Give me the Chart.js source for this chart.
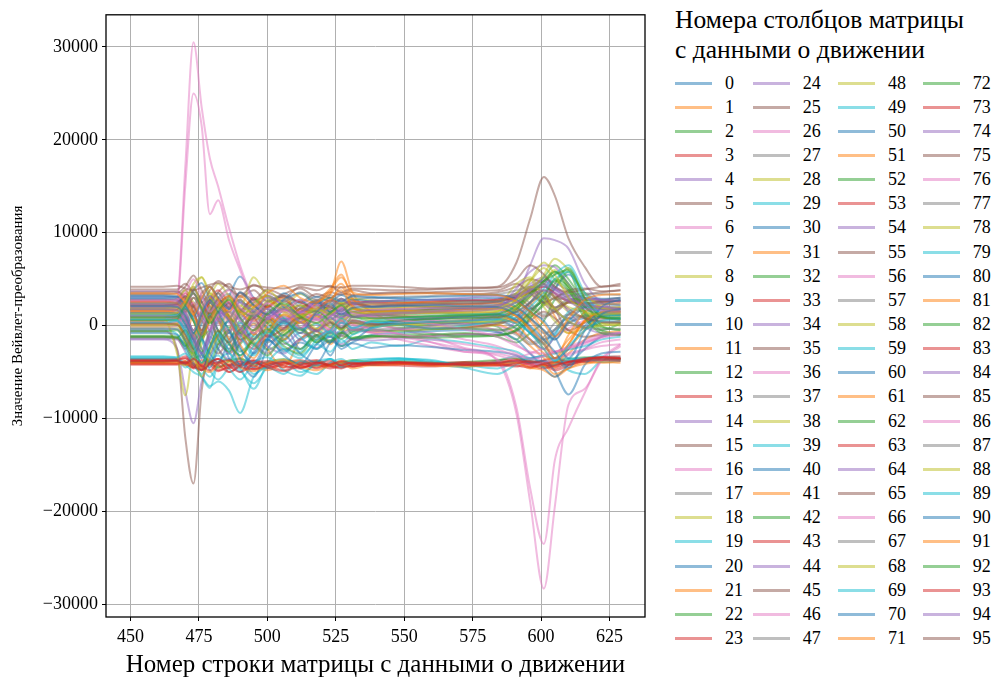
<!DOCTYPE html>
<html lang="ru">
<head>
<meta charset="UTF-8">
<title>Значение Вейвлет-преобразования</title>
<style>
    html, body {
        margin: 0;
        padding: 0;
        background: #fff;
    }

    body {
        width: 996px;
        height: 684px;
        position: relative;
        overflow: hidden;
        font-family: "Liberation Serif", "Times New Roman", serif;
        color: #000;
    }

    #plot {
        position: absolute;
        left: 0;
        top: 0;
    }

    .lg-title {
        position: absolute;
        left: 675px;
        top: 5px;
        font-size: 25.5px;
        line-height: 30px;
        white-space: nowrap;
    }

    .lg-item {
        position: absolute;
        height: 24px;
        font-size: 18px;
        line-height: 24px;
        white-space: nowrap;
    }

    .lg-line {
        position: absolute;
        left: 0;
        top: 11px;
        width: 37px;
        height: 3px;
    }

    .lg-text {
        position: absolute;
        left: 50px;
        top: 0;
    }
</style>
</head>
<body>

<canvas id="plot" width="660" height="684"></canvas>
<div id="legend">
    <div class="lg-title">Номера столбцов матрицы<br>с данными о движении</div>
</div>

<script src="https://cdn.jsdelivr.net/npm/chart.js"></script>
<script>
    const rows = [450, 462, 467, 470, 473, 476, 479, 482, 486, 490, 495, 500, 506, 512, 518, 523, 527, 531, 538, 548, 560, 572, 584, 591, 596, 601, 605, 610, 616, 622, 629];
    const xTicks = [450, 475, 500, 525, 550, 575, 600, 625];
    const yTicks = [-30000, -20000, -10000, 0, 10000, 20000, 30000];

    // wavelet values, one array per matrix column
    const col0 = [600,600,700,-400,-1800,200,1500,-600,-2500,-800,-3000,-1200,400,-1500,-300,900,-200,600,300,500,400,200,300,1200,-500,-1800,-400,800,-200,300,400];
    const col1 = [1200,1200,1300,2200,500,-1500,800,2400,1000,-600,1800,500,2200,800,-400,1200,2000,900,1300,1100,900,1000,1200,600,2200,3500,1000,-800,500,1300,1100];
    const col2 = [300,300,200,1500,-1200,-2800,-600,1200,-1500,500,-2000,-700,1000,-300,-1800,-400,600,-900,200,-200,100,300,-100,-1500,900,2200,4000,5800,1200,-500,200];
    const col3 = [-4000,-4000,-4000,-3800,-4300,-4100,-3600,-4400,-4200,-3900,-4600,-4100,-3800,-4300,-4500,-4000,-4200,-3900,-4100,-4000,-4200,-4100,-4300,-4000,-4400,-4200,-4600,-4100,-3800,-3600,-3700];
    const col4 = [3700,3700,3600,2800,1500,3000,2000,800,2500,1200,2800,1800,600,2200,1500,2600,1800,2400,2000,2300,2500,2600,2800,3500,4500,5200,4000,3000,2400,2700,2900];
    const col5 = [2800,2800,2900,3800,2000,800,2500,3500,1800,2800,1200,2400,3200,1500,2600,2000,2900,2200,2600,2500,2400,2300,2600,3000,3800,2400,1500,2600,3000,2800,3000];
    const col6 = [1900,1900,2000,3000,4200,2500,1000,2800,1500,-500,1200,2200,800,1800,2500,1200,600,1500,1000,800,500,300,0,-800,-1500,-2500,-1200,-300,600,1200,1400];
    const col7 = [900,900,1000,200,-1500,-500,1800,600,-1200,200,1500,-300,-1600,400,1200,-200,700,1500,800,900,1100,1000,800,300,1500,2600,1800,400,-300,600,800];
    const col8 = [1600,1600,1700,2500,3800,5200,3500,1800,2600,1000,2000,2800,1400,2200,1000,1800,2400,1200,1600,1500,1700,1800,1600,2200,3200,4500,3000,1500,1000,1400,1500];
    const col9 = [-3500,-3500,-3600,-4500,-3800,-3000,-4800,-5800,-4500,-3600,-5200,-4300,-3900,-5000,-4200,-3600,-4400,-3800,-3600,-3500,-4000,-4500,-3800,-3300,-3600,-3200,-3800,-4200,-3500,-3300,-3400];
    const col10 = [2400,2400,2300,1200,-500,1500,3200,2000,800,2600,1500,-200,1800,2800,1200,2200,1500,2500,2100,2200,2000,2100,2300,1500,-200,-1500,-800,1200,2000,2300,2200];
    const col11 = [100,100,200,-1000,-2500,-4000,-2200,-500,-3000,-1800,200,-2500,-4500,-1500,-600,-2000,-800,-300,-700,-500,-400,-200,100,-800,-2200,-3500,-4500,-3000,-1500,-800,-600];
    const col12 = [-1300,-1300,-1400,-2000,-3200,-1500,-500,-2500,-3800,-2000,-800,-2600,-1500,-300,-1800,-1000,-2200,-1400,-1100,-1200,-1000,-800,-1200,-1800,-800,500,2800,3500,1200,-500,-900];
    const col13 = [-3800,-3800,-3700,-3500,-4200,-4800,-4000,-3600,-5000,-4400,-3800,-4600,-4000,-3700,-4300,-4100,-3900,-4400,-4000,-3900,-4100,-4000,-3800,-3600,-4000,-4400,-4200,-3900,-3600,-3500,-3600];
    const col14 = [3100,3100,3000,2000,3500,1800,600,2200,3000,1500,2400,3300,2000,1200,2600,1800,2900,2300,2700,2600,2500,2700,2900,3300,4200,5000,4600,3800,3000,2800,2600];
    const col15 = [-1200,-1200,-1300,-2500,-1000,500,-1800,-3000,-1500,-500,-2200,-1000,-2600,-1400,-600,-1800,-1100,-1500,-1300,-1200,-1100,-900,-1000,-600,500,1500,800,-500,-1200,-1000,-900];
    const col16 = [2600,2600,2700,1500,-500,1200,2800,1000,-800,1500,2600,800,-300,1600,2400,1400,900,1700,1300,1000,600,200,-600,-2000,-3000,-3800,-3500,-3200,-2600,-2200,-2000];
    const col17 = [1400,1400,1500,500,2200,3200,1500,200,1800,2800,1000,300,1900,1200,600,1500,2000,1000,1300,1400,1500,1300,1200,600,1800,2500,1500,800,1100,1400,1500];
    const col18 = [200,200,300,-1800,-4200,-2000,500,-1200,800,-1500,-500,1200,-800,400,-1000,300,-400,600,100,200,0,-200,100,1500,3800,2000,500,-800,-300,200,300];
    const col19 = [-3400,-3400,-3500,-4000,-3200,-4500,-5500,-4200,-3600,-4800,-6200,-4500,-3800,-4600,-5200,-4000,-3600,-4200,-3700,-3500,-3800,-4200,-4600,-3900,-3500,-3300,-3600,-4800,-5200,-3800,-3500];
    const col20 = [1000,1000,900,-200,1500,-1200,-3000,-1000,500,-2200,-4500,-1800,200,-2500,-1000,-3200,-800,400,-200,300,200,400,600,-300,-1500,-2500,-1200,300,800,1000,900];
    const col21 = [-4100,-4100,-4100,-3800,-4500,-4200,-3700,-4600,-4000,-3600,-4300,-4800,-4100,-3800,-4400,-4200,-3800,-4000,-4300,-4200,-4000,-4300,-4100,-3700,-4500,-4800,-5500,-4600,-3900,-4000,-3800];
    const col22 = [-3900,-3900,-3800,-4200,-3600,-3200,-4000,-4500,-3800,-3500,-4200,-3900,-3600,-4100,-3800,-4300,-4000,-3700,-3900,-3800,-4000,-3900,-3700,-3500,-3800,-4100,-3900,-3600,-3400,-3500,-3600];
    const col23 = [-3700,-3700,-3700,-4000,-3500,-4400,-3900,-3600,-4300,-4100,-3800,-4500,-4200,-3900,-4600,-4200,-4000,-4400,-4100,-4000,-4100,-4200,-4000,-3900,-4100,-3700,-3500,-3900,-3700,-3600,-3500];
    const col24 = [-1400,-1400,-1500,-2800,-4500,-3000,-1200,-2500,-3600,-1800,-800,-2200,-3000,-1500,-2400,-1200,-2000,-1500,-1600,-1400,-1200,-1000,-800,500,2500,4200,3500,1500,-200,-800,-1000];
    const col25 = [3400,3400,3500,4200,5400,3800,2500,3600,4500,3000,3800,2600,3400,4000,3100,3600,3300,3800,3500,3600,3500,3400,3600,4200,5000,4500,3200,2800,3300,3600,3800];
    const col26 = [700,700,800,-500,-2000,-800,1200,500,-1500,-600,800,-1200,-300,1000,200,-800,400,-200,0,-300,-800,-1500,-2200,-3000,-3500,-3200,-2800,-2500,-2000,-1200,-800];
    const col27 = [2100,2100,2200,3200,2000,600,2400,3500,1800,800,2500,3200,1600,2600,1500,2200,2900,2000,2300,2200,2100,2000,2200,2800,1500,800,1800,2600,2200,2000,2100];
    const col28 = [-200,-200,-100,-1500,-3500,-1200,1800,3000,800,-1000,1500,-400,700,-800,300,-600,800,200,-100,100,300,500,400,1800,3000,4800,6000,4200,1500,300,0];
    const col29 = [1300,1300,1200,0,-2000,-3500,-1500,500,-1800,-3200,-1000,800,-1500,-2800,-500,-1200,300,-600,200,500,700,900,1100,500,-800,-2000,-1000,1500,2000,1500,1300];
    const col30 = [3000,3000,3100,2200,3800,4600,2800,1500,3200,5300,3000,2000,3500,2400,3100,2600,3300,2800,3000,2900,2800,2900,3000,2500,1800,2800,4000,5500,3500,2900,3000];
    const col31 = [500,500,800,-1500,1200,-800,1500,-2000,-500,1800,-1000,800,-1500,600,1800,3400,6900,3600,1500,500,800,1200,900,400,1200,-800,-3000,-1500,400,900,600];
    const col32 = [1800,1800,1700,800,-800,1000,2500,1200,-200,1500,2800,1200,300,1900,2600,1400,800,1800,1500,1600,1700,1800,1900,2500,3800,5200,6500,5000,2500,1800,1700];
    const col33 = [-4200,-4200,-4200,-4000,-4600,-4300,-3900,-4800,-4500,-4100,-4700,-4400,-4000,-4500,-4200,-4600,-4300,-4100,-4200,-4300,-4400,-4200,-4100,-3800,-4000,-4300,-4100,-3800,-3900,-3700,-3600];
    const col34 = [2300,2300,2200,1000,-1500,-3000,-800,1500,500,-1200,800,2000,600,1500,2400,1200,1800,2300,2000,2100,2200,2300,2500,3200,4200,4800,3800,2800,2200,2000,1900];
    const col35 = [1700,1700,1800,2800,4000,2500,1200,2200,3200,1800,900,2100,2800,1500,2200,1700,1200,1900,1600,1700,1800,1900,2000,3000,2000,1000,1500,2500,2200,1800,1900];
    const col36 = [1500,1500,2600,17000,30500,23500,18000,15000,10500,6500,2800,1200,600,1400,900,1800,1200,600,300,-400,-1200,-2400,-3800,-9500,-19000,-28300,-19500,-8500,-6800,-3600,-2000];
    const col37 = [400,400,500,-800,-2200,-1000,600,-1500,-2800,-1200,300,-1800,-600,800,-1000,-300,500,-500,0,200,300,100,400,-400,-1800,-1200,300,1200,800,500,400];
    const col38 = [2700,2700,2800,3800,2500,1200,3000,4500,3200,2000,5200,3000,2200,3400,2600,3000,2400,2900,2700,2600,2500,2600,2700,3500,4800,6200,5000,3600,2800,2600,2700];
    const col39 = [-500,-500,-900,-2500,-4000,-5500,-6700,-4000,-3000,-4500,-6800,-4000,-2500,-3200,-2000,-2800,-1500,-2500,-1800,-2200,-1500,-1800,-2400,-2800,-3500,-3200,-3000,-2600,-2200,-1500,-1200];
    const col40 = [-300,-300,-400,-1500,-3000,-4800,-2500,-1000,-3500,-5000,-2800,-1500,-3200,-4200,-2000,-1200,-2500,-1800,-1000,-800,-600,-500,-700,-1500,-3000,-4500,-5500,-4200,-2500,-1200,-800];
    const col41 = [2000,2000,2100,3000,1500,-500,1000,2800,1200,-800,-2500,200,1800,800,2500,4000,5500,3000,1800,1900,2000,2100,2000,1000,-500,-2500,-4000,-2000,600,1500,1800];
    const col42 = [1100,1100,1200,2000,600,-1000,1400,2600,1000,-200,1500,2200,800,-500,1200,2000,1000,1500,1100,1200,1300,1200,1400,2000,3500,4500,5800,4000,2000,1200,1100];
    const col43 = [-3600,-3600,-3600,-3300,-4000,-4500,-3800,-4200,-5000,-4300,-3700,-4200,-4800,-4000,-3700,-4300,-4500,-4100,-3900,-4000,-4100,-3900,-4200,-4400,-4000,-3800,-4200,-3800,-3500,-3400,-3500];
    const col44 = [-1500,-1500,-2500,-7000,-10500,-6000,-3500,-2000,-3000,-1500,-2500,-1000,-2000,-800,-1200,-500,-900,-300,-600,-400,0,500,1200,3000,6500,9400,9200,8300,4500,2500,1500];
    const col45 = [-600,-600,-2500,-12000,-17000,-7000,-2500,-1000,500,-1500,-500,800,-200,400,-600,200,-300,500,200,100,-300,-200,200,900,2500,3200,1800,-500,300,800,600];
    const col46 = [1200,1200,2200,15000,25000,21500,12000,13500,9200,6000,2400,800,1600,400,1200,300,900,200,-300,-900,-1800,-2800,-3600,-8800,-17500,-23500,-14500,-11000,-7200,-3800,-2200];
    const col47 = [800,800,900,1800,600,-800,1000,2200,800,-400,1200,1800,400,1100,2000,900,300,1200,900,800,700,900,1000,1800,800,-500,-1500,200,1000,900,800];
    const col48 = [800,800,-3000,-7500,-2000,1500,3000,1200,-500,1500,600,-800,1200,300,1000,-200,500,1100,700,900,1000,1200,1500,3500,5000,2200,3000,2000,1500,900,1000];
    const col49 = [-3600,-3600,-3700,-4200,-5000,-5500,-6500,-6000,-7000,-9400,-5500,-4500,-5200,-3800,-4300,-3600,-4100,-3800,-4200,-3700,-3900,-4100,-4000,-3800,-3600,-3900,-3700,-3500,-3800,-3600,-3700];
    const col50 = [2900,2900,2800,1800,3000,1500,-500,1200,2500,800,-1500,500,2000,1000,2600,1500,2200,2800,2600,2700,2800,2700,2600,2000,800,-500,-1500,500,2000,2600,2700];
    const col51 = [1500,1500,1400,500,-1200,800,2200,600,-1500,-3500,-1000,1200,-500,1800,800,2500,4200,2200,1200,1300,1400,1500,1300,200,-1500,-3000,-4200,-2500,-500,1000,1300];
    const col52 = [-1100,-1100,-1200,-2200,-800,-2500,-4000,-2000,-500,-2800,-1500,-600,-2200,-3000,-1200,-1800,-800,-1400,-1200,-1000,-900,-1100,-1000,-500,800,2500,4500,6200,2800,0,-500];
    const col53 = [2600,2600,2500,3500,2200,1000,2800,3800,2400,1500,3000,2000,3200,2500,1800,2800,2300,2600,2500,2400,2600,2700,2800,3000,3600,4200,3500,2600,2400,2500,2600];
    const col54 = [2200,2200,2300,1800,800,1500,2600,1200,2000,600,1500,900,1800,1200,700,1300,900,1400,1100,1300,1500,1800,2200,4000,5800,6500,6300,4500,2500,2000,1800];
    const col55 = [3600,3600,3700,3000,2000,3500,4200,3000,2200,3600,2800,3900,3200,2600,3400,3000,3500,3300,3400,3500,3600,3700,3800,4500,3500,2500,3000,3800,4000,3700,3800];
    const col56 = [300,300,400,1200,2500,800,-500,1000,2200,500,-800,600,1500,-200,800,-500,400,-300,-800,-1500,-2200,-2800,-3000,-3400,-3000,-2500,-2800,-2200,-1600,-1000,-700];
    const col57 = [1100,1100,1000,0,-1500,500,2000,800,-800,1400,2200,600,-500,1000,1800,700,1300,900,1100,1000,900,800,1000,1500,800,-800,-400,1200,1600,1300,1200];
    const col58 = [1900,1900,2000,1000,-500,1500,3500,2500,800,2200,1200,2600,1500,900,2000,1300,2400,1800,1900,2000,2100,2000,2200,4500,5200,2800,1800,2500,2200,1900,2000];
    const col59 = [-3300,-3300,-3400,-3000,-4200,-5200,-3800,-3200,-4600,-5800,-4000,-3400,-4800,-5400,-3900,-3600,-4500,-4000,-3800,-3600,-3700,-4500,-5200,-4200,-3800,-4500,-4200,-3700,-3500,-3900,-3800];
    const col60 = [-800,-800,-1000,-2200,-3500,-1500,-3000,-4000,-2000,-4200,-3000,-1500,-2800,-1800,-2500,-1600,-2200,-1900,-2400,-2100,-2300,-2600,-2800,-3200,-4000,-3800,-4900,-7400,-4200,-3000,-2800];
    const col61 = [2500,2500,2400,1500,3000,1800,400,2200,3200,1500,500,2000,3000,1200,2400,3500,4500,2800,2300,2400,2500,2300,2400,1800,500,-1500,-3500,-1000,1500,2200,2400];
    const col62 = [-600,-600,-500,-1800,-3000,-1200,500,-1500,-2800,-800,-2000,-3200,-1000,-200,-1600,-800,-1400,-700,-500,-600,-400,-300,-500,0,1500,3200,5000,4200,1500,-200,-400];
    const col63 = [-3900,-3900,-3800,-4100,-4500,-3700,-4200,-4900,-4300,-3800,-4400,-4000,-4500,-4200,-3900,-4400,-4600,-4200,-4000,-4100,-4300,-4100,-4000,-3700,-3900,-4200,-4800,-4300,-3700,-3500,-3600];
    const col64 = [1700,1700,1600,500,-1800,-3500,-1000,800,-600,1200,-200,1500,700,-300,1200,600,1400,1000,1300,1500,1600,1800,2000,3000,4000,4800,4200,3200,2000,1600,1500];
    const col65 = [2200,2200,2300,3200,1500,-500,1500,2800,2000,3500,2200,1200,2600,1800,2800,2000,1600,2400,2100,2200,2300,2400,2600,3200,4000,3000,2000,2500,2800,2600,2700];
    const col66 = [-100,-100,0,1500,3500,1800,-500,1200,300,-1200,500,-600,1000,-300,600,-800,200,-400,-700,-1200,-1800,-2500,-3200,-3800,-4200,-4000,-3600,-3000,-2500,-1800,-1500];
    const col67 = [3300,3300,3200,2400,3800,2600,1500,3000,3900,2500,1800,3200,2600,3600,2800,3300,2700,3100,3000,3100,3200,3300,3400,3800,4200,3600,2800,3200,3500,3400,3300];
    const col68 = [1800,1800,1900,2500,4500,5200,3000,2000,2800,1500,2500,3200,1800,2200,1500,2000,2600,1800,1500,1600,1400,1500,1900,2800,3800,5500,7200,6000,3500,2000,1600];
    const col69 = [300,300,500,-800,-2500,-1000,1200,-500,-1800,300,-1200,-600,800,-400,200,-800,300,-200,400,100,-300,0,600,1500,2500,4000,5500,6500,3500,1200,800];
    const col70 = [1400,1400,1300,200,-1500,-3000,-4500,-2500,-800,-3500,-5500,-2500,-1000,-3000,-4000,-1800,-500,-1500,-200,500,800,1000,1200,600,-800,-2000,-3500,-2500,0,1000,1200];
    const col71 = [-4000,-4000,-4000,-4300,-3800,-4600,-5000,-4200,-3800,-4500,-4900,-4100,-3700,-4400,-4800,-4300,-4000,-4600,-4200,-4100,-4300,-4400,-4200,-4000,-4600,-4300,-5200,-4600,-4100,-3900,-4000];
    const col72 = [600,600,700,1800,500,-1200,800,2000,600,-800,1200,300,-1000,800,1600,400,-400,900,500,600,700,800,900,1800,3200,4800,5800,4500,2000,900,700];
    const col73 = [-3700,-3700,-3700,-3500,-4200,-4700,-4000,-3600,-4300,-5000,-4100,-3800,-4300,-4600,-4000,-4200,-3800,-4100,-4000,-3900,-4000,-4200,-4300,-4100,-3800,-4000,-4400,-4000,-3600,-3400,-3500];
    const col74 = [2800,2800,2700,1500,-500,1500,3200,2200,800,2500,1600,3000,2200,1400,2600,2000,2700,2400,2600,2700,2800,3000,3200,3200,3800,4500,4000,3300,2900,2800,2600];
    const col75 = [3900,3900,3900,4500,3500,2500,3800,4800,4000,3200,4400,3600,3000,4200,3800,4300,3600,4000,3900,3800,3900,4000,4100,5000,6500,5500,4200,3600,3900,4200,4300];
    const col76 = [1000,1000,1100,2200,3500,1500,-200,1400,2600,800,-500,1200,300,1500,800,-400,600,100,-400,-900,-1500,-2000,-2600,-3200,-3600,-3300,-2900,-2400,-1800,-1300,-1000];
    const col77 = [2400,2400,2500,1500,3000,2000,800,2600,3400,1800,1000,2600,3200,2000,1500,2700,2200,2500,2400,2300,2400,2500,2600,3400,2400,1200,1800,2800,2500,2400,2300];
    const col78 = [0,0,100,-1200,-3000,-5500,-3000,-1000,1500,-500,-1800,500,-600,1200,-300,600,-500,300,0,100,300,400,500,2000,4200,3500,1800,500,-200,0,200];
    const col79 = [1200,1200,1100,2000,800,-1500,-3500,-1500,500,-1000,-3200,-1500,300,-1200,-2500,-600,800,-300,500,800,1000,1200,1300,800,2000,3500,5000,5800,2500,1300,1100];
    const col80 = [3200,3200,3100,2200,1000,2800,4200,3000,1800,3600,2200,1200,2800,3500,2400,3000,2600,3200,3100,3000,3100,3200,3300,2800,1500,500,-1200,-3500,-500,2000,2800];
    const col81 = [1600,1600,1700,2600,1200,-1000,500,2200,800,-2000,-3500,-800,1200,300,1500,2800,3800,2000,1500,1600,1500,1700,1800,1000,-300,-2000,-3500,-2000,500,1400,1500];
    const col82 = [-1200,-1200,-1300,-500,-2500,-4000,-2200,-600,-2000,-3200,-1500,-400,-1800,-2500,-1000,-1600,-700,-1300,-1100,-1200,-1300,-1200,-1100,-400,1200,3000,4800,3800,800,-800,-1000];
    const col83 = [-4100,-4100,-4100,-3900,-4400,-4800,-4200,-3900,-4600,-4300,-4000,-4500,-4900,-4300,-4000,-4400,-4200,-4000,-4200,-4100,-4200,-4000,-4100,-4300,-4500,-4100,-3900,-4200,-3800,-3700,-3800];
    const col84 = [2000,2000,2100,1200,-800,-2500,-500,1500,600,-1000,800,1800,600,1400,2200,1200,1800,1500,1700,1800,1900,2000,2200,3000,3800,4300,3900,3000,2200,2000,1800];
    const col85 = [200,200,100,-1000,-2500,-800,1000,-500,-1800,-400,800,-1200,-300,900,-500,400,-200,300,100,200,400,600,800,1500,2500,3800,3000,1800,800,400,300];
    const col86 = [2700,2700,2800,3500,5000,3200,1500,2600,3800,2000,1200,2400,1600,2800,1800,1000,2000,1400,1000,600,200,-400,-1200,-2200,-2800,-3000,-2800,-2400,-1800,-1200,-800];
    const col87 = [-400,-400,-300,-1500,-2800,-1000,600,-1200,-2500,-600,-1800,-3000,-1200,-300,-1500,-700,-1100,-500,-400,-300,-200,-300,-400,-1000,-2000,-1500,-500,300,-200,-400,-300];
    const col88 = [1300,1300,1400,2500,4200,2000,500,1800,3000,1200,2000,3800,2200,1000,1800,1200,2200,1500,1300,1400,1500,1400,1600,2800,4800,6800,5500,3000,1500,1200,1300];
    const col89 = [700,700,600,-500,-2200,-4000,-2500,-800,-2800,-4500,-2200,-800,-2500,-3500,-1500,-600,-1800,-1000,-300,200,400,500,700,200,-800,-2500,-3800,-2200,-500,500,700];
    const col90 = [2100,2100,2000,1000,-800,1200,2800,1500,-500,-2500,-4000,-1500,500,-800,1500,2400,1200,1900,2000,2100,2200,2100,2000,1200,0,-1500,-2800,-4500,-1500,1200,1800];
    const col91 = [3500,3500,3400,2500,1200,3000,4200,2800,1500,3200,2000,3500,4300,3000,2500,3800,5200,3600,3300,3400,3500,3400,3300,2600,1500,200,-1200,800,2800,3300,3400];
    const col92 = [900,900,1000,2200,3500,1800,200,1500,2800,900,-500,1300,2400,1000,300,1400,2200,1000,800,900,1000,1100,1200,2200,3500,4800,5500,6000,3000,1000,800];
    const col93 = [-3800,-3800,-3800,-4100,-3600,-4300,-4800,-4000,-3700,-4400,-4700,-4200,-3900,-4500,-4100,-3800,-4300,-4400,-4100,-4000,-4100,-4200,-4000,-3800,-4200,-4600,-4300,-3900,-3600,-3400,-3300];
    const col94 = [1800,1800,1700,600,-1200,-3000,-1500,500,1500,-200,-1500,800,1800,400,-600,1000,1600,900,1200,1400,1500,1600,1800,2500,3300,3800,3500,2600,1800,1700,1600];
    const col95 = [4200,4200,4300,4000,3800,4100,4400,4600,4200,3900,4300,4100,4000,4400,4300,4200,4100,4300,4300,4200,4000,4100,4200,6800,11500,16000,14000,9400,6300,4200,4500];

    const columns = [
        col0, col1, col2, col3, col4, col5, col6, col7, col8, col9,
        col10, col11, col12, col13, col14, col15, col16, col17, col18, col19,
        col20, col21, col22, col23, col24, col25, col26, col27, col28, col29,
        col30, col31, col32, col33, col34, col35, col36, col37, col38, col39,
        col40, col41, col42, col43, col44, col45, col46, col47, col48, col49,
        col50, col51, col52, col53, col54, col55, col56, col57, col58, col59,
        col60, col61, col62, col63, col64, col65, col66, col67, col68, col69,
        col70, col71, col72, col73, col74, col75, col76, col77, col78, col79,
        col80, col81, col82, col83, col84, col85, col86, col87, col88, col89,
        col90, col91, col92, col93, col94, col95
    ];
    const columnLabels = columns.map((c, i) => String(i));

    // matplotlib tab10 at half opacity
    const palette = [
        'rgba(31, 119, 180, 0.5)', 'rgba(255, 127, 14, 0.5)', 'rgba(44, 160, 44, 0.5)',
        'rgba(214, 39, 40, 0.5)', 'rgba(148, 103, 189, 0.5)', 'rgba(140, 86, 75, 0.5)',
        'rgba(227, 119, 194, 0.5)', 'rgba(127, 127, 127, 0.5)', 'rgba(188, 189, 34, 0.5)',
        'rgba(23, 190, 207, 0.5)'
    ];

    const serif = 'Liberation Serif';
    const minus = v => (v < 0 ? '\u2212' + Math.abs(v) : String(v));

    // black box round the plot area, on top of the lines
    const frame = {
        id: 'frame',
        afterDatasetsDraw(chart) {
            const a = chart.chartArea;
            const c = chart.ctx;
            c.save();
            c.strokeStyle = '#000';
            c.lineWidth = 1.3;
            c.strokeRect(a.left, a.top, a.right - a.left, a.bottom - a.top);
            c.restore();
        }
    };

    const datasets = columns.map((vals, i) => ({
        label: columnLabels[i],
        data: vals.map((v, j) => ({ x: rows[j], y: v })),
        borderColor: palette[i % 10],
        borderWidth: 2,
        pointRadius: 0,
        fill: false,
        cubicInterpolationMode: 'monotone',
        order: columns.length - i
    }));

    new Chart(document.getElementById('plot').getContext('2d'), {
        type: 'line',
        data: { datasets: datasets },
        plugins: [frame],
        options: {
            responsive: false,
            animation: false,
            devicePixelRatio: 1,
            layout: { padding: { top: 12, right: 15, left: 0, bottom: 0 } },
            plugins: {
                legend: { display: false },
                tooltip: { enabled: false }
            },
            scales: {
                x: {
                    type: 'linear',
                    min: 441.05,
                    max: 637.95,
                    afterBuildTicks: s => { s.ticks = xTicks.map(v => ({ value: v })); },
                    afterFit: s => { s.height = 67; },
                    grid: { color: '#b0b0b0', lineWidth: 1, tickLength: 4, tickColor: '#000' },
                    border: { display: false },
                    ticks: {
                        font: { family: serif, size: 18 },
                        color: '#000',
                        padding: 5,
                        maxRotation: 0,
                        autoSkip: false,
                        callback: v => String(v)
                    },
                    title: {
                        display: true,
                        text: 'Номер строки матрицы с данными о движении',
                        font: { family: serif, size: 25 },
                        color: '#000',
                        padding: { top: 0, bottom: 4 }
                    }
                },
                y: {
                    min: -31360,
                    max: 33460,
                    afterBuildTicks: s => { s.ticks = yTicks.map(v => ({ value: v })); },
                    afterFit: s => { s.width = 106; },
                    grid: { color: '#b0b0b0', lineWidth: 1, tickLength: 4, tickColor: '#000' },
                    border: { display: false },
                    ticks: {
                        font: { family: serif, size: 18 },
                        color: '#000',
                        padding: 4,
                        autoSkip: false,
                        callback: v => minus(v)
                    },
                    title: {
                        display: true,
                        text: 'Значение Вейвлет-преобразования',
                        font: { family: serif, size: 15 },
                        color: '#000',
                        padding: { top: 9, bottom: 0 }
                    }
                }
            }
        }
    });

    // legend: 4 columns of 24 entries, filled top to bottom
    const legend = document.getElementById('legend');
    const legendX = [675, 752.7, 838, 922.7];
    columnLabels.forEach((name, i) => {
        const item = document.createElement('div');
        item.className = 'lg-item';
        item.style.left = legendX[Math.floor(i / 24)] + 'px';
        item.style.top = (82.5 + (i % 24) * 24.15 - 12) + 'px';
        const line = document.createElement('span');
        line.className = 'lg-line';
        line.style.background = palette[i % 10];
        const text = document.createElement('span');
        text.className = 'lg-text';
        text.textContent = name;
        item.appendChild(line);
        item.appendChild(text);
        legend.appendChild(item);
    });
</script>
</body>
</html>
